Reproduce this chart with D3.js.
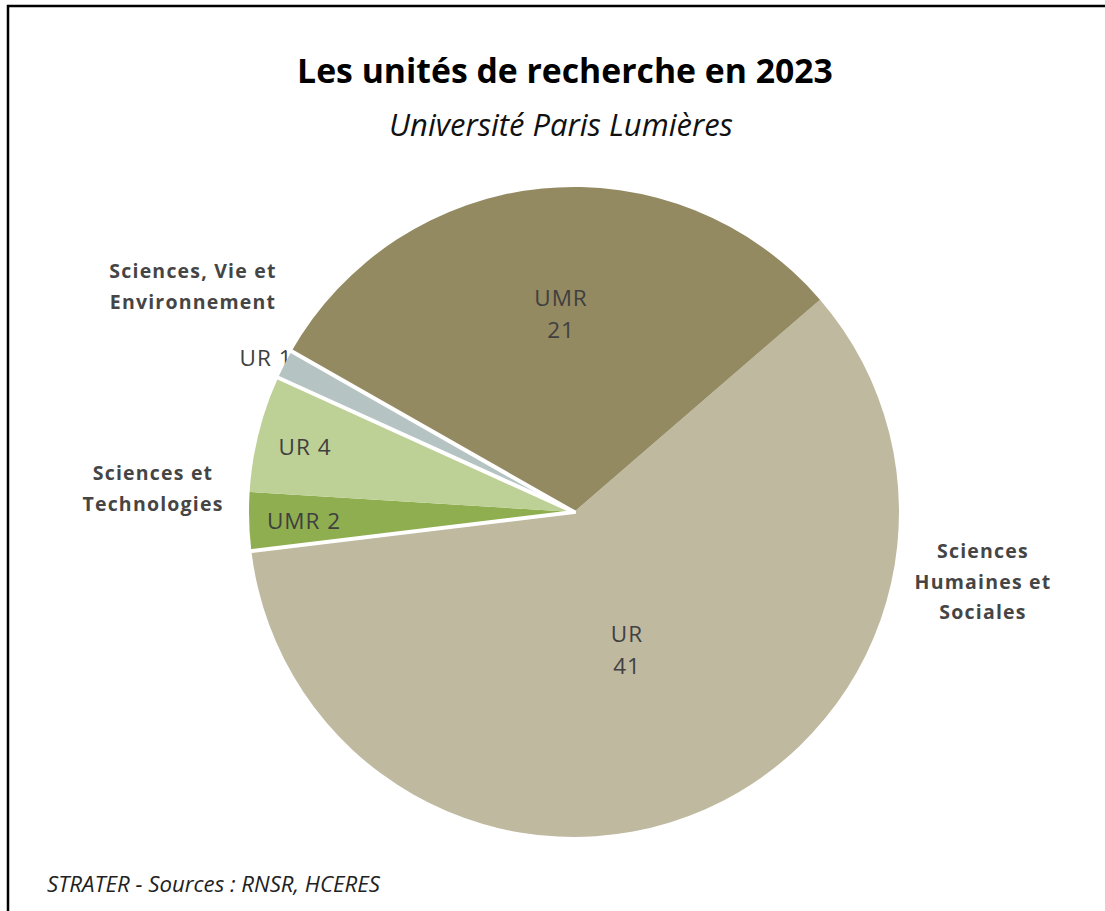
<!DOCTYPE html>
<html><head><meta charset="utf-8">
<script src="https://cdn.jsdelivr.net/npm/d3@7"></script>
<style>
html,body{margin:0;padding:0;background:#fff;}
svg{display:block;}
</style></head>
<body>
<svg id="chart" width="1105" height="911"></svg>
<script>
// Data (order clockwise, as in the reference)
const sliceLabels = ["UR\n41", "UMR 2", "UR 4", "UR 1", "UMR\n21"];
const sliceValues = [41, 2, 4, 1, 21];
const sliceGroups = ["Sciences Humaines et Sociales", "Sciences et Technologies", "Sciences et Technologies", "Sciences, Vie et Environnement", "Sciences Humaines et Sociales"];
const sliceColors = ["#bfb9a0", "#8fae4f", "#bdd096", "#b5c4c3", "#948a62"];
const groupLabels = [["Sciences, Vie et", "Environnement"], ["Sciences et", "Technologies"], ["Sciences", "Humaines et", "Sociales"]];

const svg = d3.select("#chart");
const FONT = "'Open Sans', sans-serif";

// frame
svg.append("rect").attr("x", 8).attr("y", 6).attr("width", 1200).attr("height", 1000)
  .attr("fill", "none").attr("stroke", "#000").attr("stroke-width", 2.5);

function fitText(sel, target) {
  const w = sel.node().getComputedTextLength();
  const fs = parseFloat(sel.attr("font-size"));
  sel.attr("font-size", fs * target / w);
}

const title = svg.append("text").attr("x", 565).attr("y", 83).attr("text-anchor", "middle")
  .attr("font-family", FONT).attr("font-weight", "bold").attr("font-size", 30).attr("fill", "#000")
  .text("Les unités de recherche en 2023");
fitText(title, 536);
const sub = svg.append("text").attr("x", 561).attr("y", 136).attr("text-anchor", "middle")
  .attr("font-family", FONT).attr("font-style", "italic").attr("font-size", 25).attr("fill", "#111")
  .text("Université Paris Lumières");
fitText(sub, 344);

const cx = 574, cy = 512, R = 325;
const start = 49.2 * Math.PI / 180;
const pie = d3.pie().sort(null).value(d => d).startAngle(start).endAngle(start + 2 * Math.PI);
const arcs = pie(sliceValues);
const arc = d3.arc().innerRadius(0).outerRadius(R);

const labelPos = [[627, 634], [304, 521], [305, 447], [266, 358], [561, 298]];
function drawLabel(i) {
  const lines = sliceLabels[i].split("\n");
  const [x, y] = labelPos[i];
  const t = svg.append("text").attr("text-anchor", "middle")
    .attr("font-family", FONT).attr("font-size", 22.5).attr("letter-spacing", 1).attr("fill", "#404040");
  lines.forEach((l, j) => t.append("tspan").attr("x", x).attr("y", y + 8 + j * 32).text(l));
}
// the small "UR 1" label sits partly under its slice in the reference
drawLabel(3);

const g = svg.append("g").attr("transform", `translate(${cx},${cy})`);
g.selectAll("path.slice").data(arcs).join("path").attr("class", "slice")
  .attr("d", arc).attr("fill", (d, i) => sliceColors[i]);

// white separators where the group changes
const sepAngles = [];
arcs.forEach((d, i) => {
  const prev = (i - 1 + arcs.length) % arcs.length;
  if (sliceGroups[i] !== sliceGroups[prev]) sepAngles.push(d.startAngle);
});
g.selectAll("line.sep").data(sepAngles).join("line").attr("class", "sep")
  .attr("x1", 0).attr("y1", 0)
  .attr("x2", a => Math.sin(a) * (R + 4)).attr("y2", a => -Math.cos(a) * (R + 4))
  .attr("stroke", "#fff").attr("stroke-width", 4).attr("stroke-linecap", "round");

[0, 1, 2, 4].forEach(drawLabel);

// group labels
const groupPos = [[193, 271], [153, 473], [983, 551]];
groupLabels.forEach((lines, i) => {
  const t = svg.append("text").attr("text-anchor", "middle")
    .attr("font-family", FONT).attr("font-weight", "bold").attr("font-size", 19.5)
    .attr("letter-spacing", 1.2).attr("fill", "#454545");
  lines.forEach((l, j) => t.append("tspan").attr("x", groupPos[i][0]).attr("y", groupPos[i][1] + 7 + j * 30.5).text(l));
});

const foot = svg.append("text").attr("x", 47).attr("y", 892)
  .attr("font-family", FONT).attr("font-style", "italic").attr("font-size", 18).attr("fill", "#222")
  .text("STRATER - Sources : RNSR, HCERES");
fitText(foot, 333);
</script>
</body></html>
